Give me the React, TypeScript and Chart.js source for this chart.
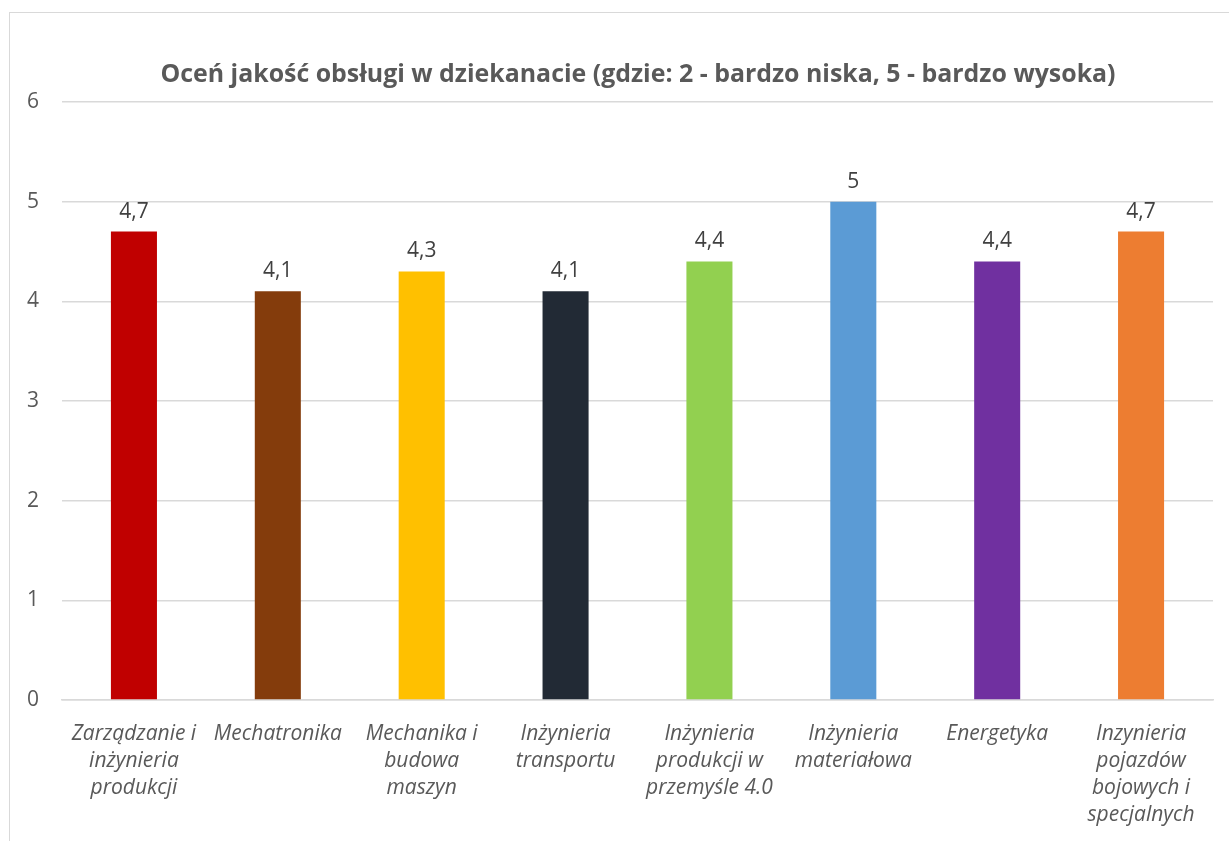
import React, { useEffect, useRef } from "react";
import { Chart, registerables } from "chart.js";

Chart.register(...registerables);

const TITLE = "Oceń jakość obsługi w dziekanacie (gdzie: 2 - bardzo niska, 5 - bardzo wysoka)";

const categories: string[][] = [
  ["Zarządzanie i", "inżynieria", "produkcji"],
  ["Mechatronika"],
  ["Mechanika i", "budowa", "maszyn"],
  ["Inżynieria", "transportu"],
  ["Inżynieria", "produkcji w", "przemyśle 4.0"],
  ["Inżynieria", "materiałowa"],
  ["Energetyka"],
  ["Inzynieria", "pojazdów", "bojowych i", "specjalnych"],
];

const values: number[] = [4.7, 4.1, 4.3, 4.1, 4.4, 5, 4.4, 4.7];

const barColors: string[] = [
  "#C00000",
  "#843C0C",
  "#FFC000",
  "#222A35",
  "#92D050",
  "#5B9BD5",
  "#7030A0",
  "#ED7D31",
];

const yTicks: number[] = [0, 1, 2, 3, 4, 5, 6];

const FONT = "'Open Sans', Lato, sans-serif";

const titlePlugin = {
  id: "customTitle",
  afterDraw(chart: any) {
    const ctx = chart.ctx;
    ctx.save();
    ctx.font = `bold 24.9px ${FONT}`;
    ctx.fillStyle = "#595959";
    ctx.textAlign = "center";
    ctx.textBaseline = "middle";
    ctx.fillText(TITLE, 638, 75);
    ctx.restore();
  },
};

const dataLabelPlugin = {
  id: "dataLabels",
  afterDatasetsDraw(chart: any) {
    const ctx = chart.ctx;
    const meta = chart.getDatasetMeta(0);
    ctx.save();
    ctx.font = `21px ${FONT}`;
    ctx.fillStyle = "#404040";
    ctx.textAlign = "center";
    ctx.textBaseline = "middle";
    meta.data.forEach((bar: any, i: number) => {
      const txt = String(values[i]).replace(".", ",");
      ctx.fillText(txt, bar.x, bar.y - 20);
    });
    ctx.restore();
  },
};

export default function App() {
  const ref = useRef<HTMLCanvasElement | null>(null);

  useEffect(() => {
    if (!ref.current) return;
    const chart = new Chart(ref.current, {
      type: "bar",
      data: {
        labels: categories,
        datasets: [
          {
            data: values,
            backgroundColor: barColors,
            borderWidth: 0,
            categoryPercentage: 1,
            barPercentage: 0.32,
          },
        ],
      },
      options: {
        animation: false,
        responsive: false,
        maintainAspectRatio: false,
        layout: { padding: { top: 102, left: 0, right: 16, bottom: 0 } },
        plugins: {
          legend: { display: false },
          title: { display: false },
          tooltip: { enabled: false },
        },
        scales: {
          x: {
            grid: { display: false, drawTicks: false },
            border: { display: true, color: "#d9d9d9", width: 1.5 },
            ticks: {
              padding: 20,
              maxRotation: 0,
              autoSkip: false,
              color: "#595959",
              font: { family: FONT, size: 21, style: "italic", lineHeight: 1.29 },
            },
            afterFit(scale: any) {
              scale.height = 141;
            },
          },
          y: {
            min: 0,
            max: 6,
            afterBuildTicks(scale: any) {
              scale.ticks = yTicks.map((v) => ({ value: v }));
            },
            grid: { color: "#d9d9d9", lineWidth: 1.5, drawTicks: false },
            border: { display: false },
            ticks: {
              padding: 23,
              color: "#595959",
              font: { family: FONT, size: 21 },
            },
            afterFit(scale: any) {
              scale.width = 62;
            },
          },
        },
      },
      plugins: [titlePlugin, dataLabelPlugin],
    });
    return () => chart.destroy();
  }, []);

  return (
    <div
      style={{
        position: "fixed",
        left: 0,
        top: 0,
        width: 1229,
        height: 841,
        background: "#fff",
        overflow: "hidden",
      }}
    >
      <div
        style={{
          position: "absolute",
          left: 9,
          top: 12,
          width: 1260,
          height: 880,
          border: "1.5px solid #d9d9d9",
        }}
      />
      <canvas
        ref={ref}
        width={1229}
        height={841}
        style={{ position: "absolute", left: 0, top: 0, width: 1229, height: 841 }}
      />
    </div>
  );
}
